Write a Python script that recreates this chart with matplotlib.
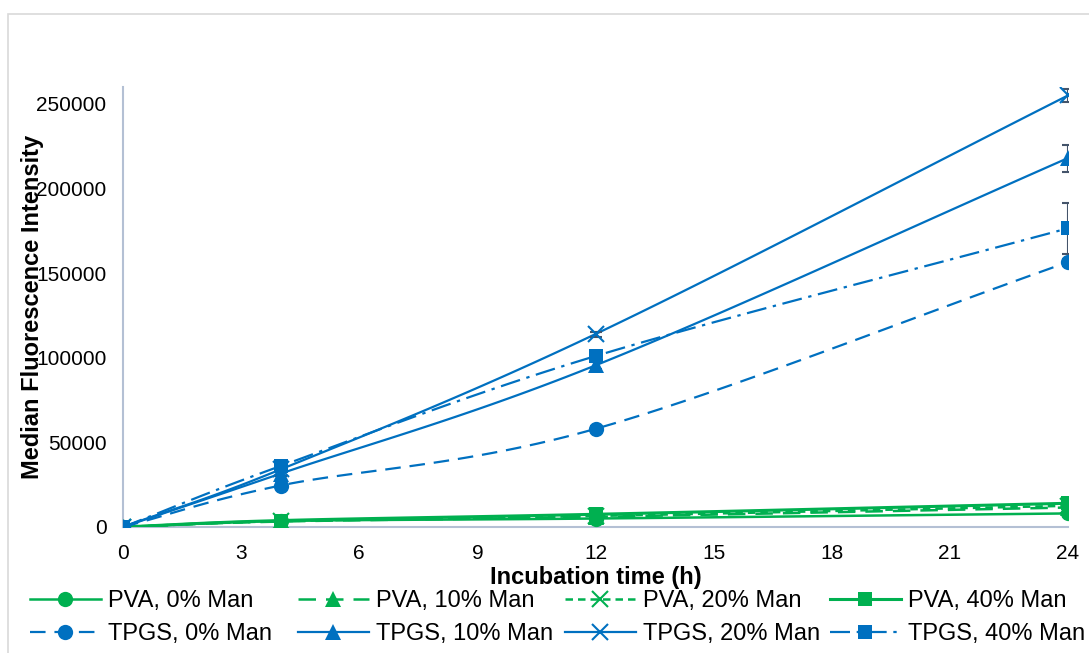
import numpy as np
import matplotlib.pyplot as plt
from matplotlib.lines import Line2D

plt.rcParams['font.family'] = ['Liberation Sans', 'DejaVu Sans']

hours = [0, 4, 12, 24]

pva_0 = [0, 3500, 5000, 8000]
pva_10 = [0, 3200, 6000, 11500]
pva_20 = [0, 3400, 6500, 12500]
pva_40 = [0, 3800, 7500, 14000]
tpgs_0 = [0, 24500, 58000, 156500]
tpgs_10 = [0, 31500, 95500, 218000]
tpgs_20 = [0, 34000, 114000, 255000]
tpgs_40 = [0, 36000, 101000, 176500]

tpgs_0_err = [0, 800, 1500, 2000]
tpgs_10_err = [0, 1500, 2000, 8000]
tpgs_20_err = [0, 1200, 1500, 4000]
tpgs_40_err = [0, 1500, 2500, 15000]

labels = ["PVA, 0% Man", "PVA, 10% Man", "PVA, 20% Man", "PVA, 40% Man",
          "TPGS, 0% Man", "TPGS, 10% Man", "TPGS, 20% Man", "TPGS, 40% Man"]

green = "#00B050"
blue = "#0070C0"
err_col = "#44546A"

XMAX, YMAX = 24, 260000


def smooth(x, y, n=40):
    # catmull-rom through the points, done in axis fractions like excel's smoothed lines
    px = np.array(x, float) / XMAX
    py = np.array(y, float) / YMAX
    P = np.column_stack([px, py])
    P = np.vstack([P[0] - (P[1] - P[0]), P, P[-1] + (P[-1] - P[-2])])
    out = []
    t = np.linspace(0, 1, n)[:, None]
    for i in range(1, len(P) - 2):
        p0, p1, p2, p3 = P[i - 1], P[i], P[i + 1], P[i + 2]
        seg = 0.5 * ((2 * p1) + (-p0 + p2) * t + (2 * p0 - 5 * p1 + 4 * p2 - p3) * t ** 2
                     + (-p0 + 3 * p1 - 3 * p2 + p3) * t ** 3)
        out.append(seg)
    out = np.vstack(out)
    return out[:, 0] * XMAX, out[:, 1] * YMAX


series = [
    (pva_0, None, green, '-', 'o', 1.8),
    (pva_10, None, green, (0, (7, 4)), '^', 1.8),
    (pva_20, None, green, (0, (3, 2)), 'x', 1.8),
    (pva_40, None, green, '-', 's', 2.2),
    (tpgs_0, tpgs_0_err, blue, (0, (7, 4)), 'o', 1.6),
    (tpgs_10, tpgs_10_err, blue, '-', '^', 1.6),
    (tpgs_20, tpgs_20_err, blue, '-', 'x', 1.6),
    (tpgs_40, tpgs_40_err, blue, (0, (9, 3, 1.5, 3)), 's', 1.6),
]

fig = plt.figure(figsize=(10.89, 6.53), dpi=100)
ax = fig.add_axes([0.1130, 0.193, 0.8677, 0.6738])

handles = []
for (vals, err, col, ls, mk, lw), lab in zip(series, labels):
    sx, sy = smooth(hours, vals)
    ax.plot(sx, sy, color=col, linestyle=ls, linewidth=lw, zorder=2)
    if err is not None:
        ax.errorbar(hours, vals, yerr=err, fmt='none', ecolor=err_col, elinewidth=1.5,
                    capsize=4, capthick=1.5, zorder=3)
    ms = 11 if mk != 's' else 10.5
    mew = 1.5 if mk == 'x' else 0
    ax.plot(hours, vals, linestyle='none', marker=mk, markersize=ms, color=col,
            markeredgewidth=mew, zorder=4)
    handles.append(Line2D([], [], color=col, linestyle=ls, linewidth=lw, marker=mk,
                          markersize=ms, markeredgewidth=mew))

ax.set_xlim(0, XMAX)
ax.set_ylim(0, YMAX)
ax.set_xticks(range(0, 25, 3))
ax.set_yticks(range(0, 250001, 50000))
ax.tick_params(axis='y', length=0, labelsize=15, pad=12)
ax.tick_params(axis='x', length=0, labelsize=15, pad=12)
for s in ['top', 'right']:
    ax.spines[s].set_visible(False)
for s in ['left', 'bottom']:
    ax.spines[s].set_color('#B4C0D4')
    ax.spines[s].set_linewidth(1.5)
    ax.spines[s].set_zorder(1)

ax.set_xlabel("Incubation time (h)", fontsize=17, fontweight='bold')
ax.xaxis.set_label_coords(0.5, -0.088)
ax.yaxis.set_label_coords(-0.084, 0.5)
ax.set_ylabel("Median Fluorescence Intensity", fontsize=17, fontweight='bold')

# one legend per column so the columns sit at even spacing
col_left = [30, 298, 565, 830]
for c in range(4):
    fig.legend([handles[c], handles[c + 4]], [labels[c], labels[c + 4]],
               loc='upper left', bbox_to_anchor=(col_left[c] / 1089, 1 - 590 / 653),
               frameon=False, fontsize=17, handlelength=3.0, handletextpad=0.3,
               labelspacing=0.46, borderaxespad=0, borderpad=0)

# chart frame
fig.add_artist(plt.Rectangle((0.007, -0.01), 1.1, 0.988, transform=fig.transFigure,
                             fill=False, edgecolor='#D9D9D9', linewidth=1.2))

fig.savefig("out.png", dpi=100)
